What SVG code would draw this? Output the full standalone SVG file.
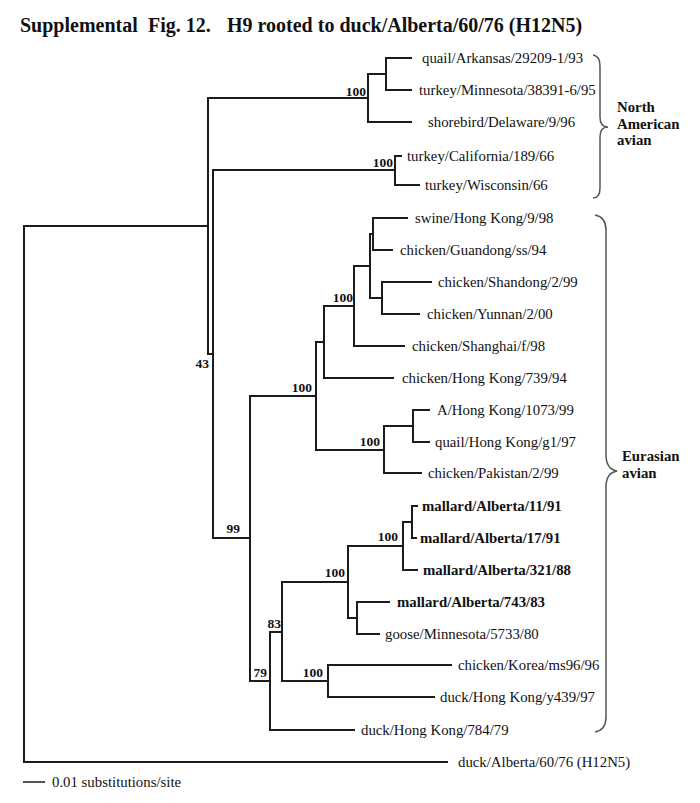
<svg xmlns="http://www.w3.org/2000/svg" width="700" height="803" viewBox="0 0 700 803">
<style>
.br{fill:none;stroke:#1c1c1c;stroke-width:2;stroke-linejoin:miter}
.t{font-family:"Liberation Serif","Times New Roman",serif;font-size:14.8px;fill:#111}
.bd{font-weight:bold}
.bs{font-family:"Liberation Serif","Times New Roman",serif;font-size:13.5px;font-weight:bold;fill:#111;text-anchor:end}
.brace{fill:none;stroke:#555;stroke-width:1.5}
</style>
<rect width="700" height="803" fill="#fff"/>
<text class="t bd" style="font-size:20px" y="32"><tspan x="20">Supplemental</tspan><tspan x="148">Fig. 12.</tspan><tspan x="227">H9 rooted to duck/Alberta/60/76 (H12N5)</tspan></text>
<g id="connectors">
<path class="br" d="M24,494 V226 H208"/>
<path class="br" d="M24,494 V762 H448"/>
<path class="br" d="M208,226 V98 H368"/>
<path class="br" d="M208,226 V354 H213"/>
<path class="br" d="M368,98 V74 H386"/>
<path class="br" d="M368,98 V122 H412"/>
<path class="br" d="M386,74 V58 H412"/>
<path class="br" d="M386,74 V90 H412"/>
<path class="br" d="M213,354 V170 H395"/>
<path class="br" d="M213,354 V538 H250"/>
<path class="br" d="M395,170 V156 H402"/>
<path class="br" d="M395,170 V185 H420"/>
<path class="br" d="M250,538 V396 H316"/>
<path class="br" d="M250,538 V681 H270"/>
<path class="br" d="M316,396 V342 H324"/>
<path class="br" d="M316,396 V450 H384"/>
<path class="br" d="M324,342 V306 H354"/>
<path class="br" d="M324,342 V378 H394"/>
<path class="br" d="M354,306 V266 H370"/>
<path class="br" d="M354,306 V346 H405"/>
<path class="br" d="M370,266 V234 H373"/>
<path class="br" d="M370,266 V298 H382"/>
<path class="br" d="M373,234 V218 H408"/>
<path class="br" d="M373,234 V250 H393"/>
<path class="br" d="M382,298 V282 H432"/>
<path class="br" d="M382,298 V314 H420"/>
<path class="br" d="M384,450 V426 H413"/>
<path class="br" d="M384,450 V473 H422"/>
<path class="br" d="M413,426 V410 H430"/>
<path class="br" d="M413,426 V442 H430"/>
<path class="br" d="M270,681 V632 H282"/>
<path class="br" d="M270,681 V730 H355"/>
<path class="br" d="M282,632 V582 H348"/>
<path class="br" d="M282,632 V681 H328"/>
<path class="br" d="M348,582 V546 H403"/>
<path class="br" d="M348,582 V618 H357"/>
<path class="br" d="M403,546 V522 H412"/>
<path class="br" d="M403,546 V570 H418"/>
<path class="br" d="M412,522 V506 H418"/>
<path class="br" d="M412,522 V538 H417"/>
<path class="br" d="M357,618 V602 H390"/>
<path class="br" d="M357,618 V634 H380"/>
<path class="br" d="M328,681 V665 H452"/>
<path class="br" d="M328,681 V697 H435"/>
</g>
<g id="n-na1"><text class="bs" x="366" y="96">100</text></g>
<g id="n-na2"><text class="bs" x="393" y="167">100</text></g>
<g id="n-b"><text class="bs" x="209" y="368">43</text></g>
<g id="n-e"><text class="bs" x="240" y="533">99</text></g>
<g id="n-e1"><text class="bs" x="312" y="392">100</text></g>
<g id="n-e1a1"><text class="bs" x="353" y="302">100</text></g>
<g id="n-e1b"><text class="bs" x="380" y="446">100</text></g>
<g id="n-m"><text class="bs" x="345" y="577">100</text></g>
<g id="n-m1"><text class="bs" x="398" y="541">100</text></g>
<g id="n-e2a"><text class="bs" x="281" y="628">83</text></g>
<g id="n-e2"><text class="bs" x="267" y="677">79</text></g>
<g id="n-k"><text class="bs" x="323" y="677">100</text></g>
<g id="leaf1"><text class="t" x="422" y="63">quail/Arkansas/29209-1/93</text></g>
<g id="leaf2"><text class="t" x="419" y="95">turkey/Minnesota/38391-6/95</text></g>
<g id="leaf3"><text class="t" x="428" y="127">shorebird/Delaware/9/96</text></g>
<g id="leaf4"><text class="t" x="407" y="161">turkey/California/189/66</text></g>
<g id="leaf5"><text class="t" x="425" y="190">turkey/Wisconsin/66</text></g>
<g id="leaf6"><text class="t" x="415" y="223">swine/Hong Kong/9/98</text></g>
<g id="leaf7"><text class="t" x="400" y="255">chicken/Guandong/ss/94</text></g>
<g id="leaf8"><text class="t" x="438" y="287">chicken/Shandong/2/99</text></g>
<g id="leaf9"><text class="t" x="427" y="319">chicken/Yunnan/2/00</text></g>
<g id="leaf10"><text class="t" x="412" y="351">chicken/Shanghai/f/98</text></g>
<g id="leaf11"><text class="t" x="402" y="383">chicken/Hong Kong/739/94</text></g>
<g id="leaf12"><text class="t" x="437" y="415">A/Hong Kong/1073/99</text></g>
<g id="leaf13"><text class="t" x="435" y="447">quail/Hong Kong/g1/97</text></g>
<g id="leaf14"><text class="t" x="428" y="478">chicken/Pakistan/2/99</text></g>
<g id="leaf15"><text class="t bd" x="422" y="511">mallard/Alberta/11/91</text></g>
<g id="leaf16"><text class="t bd" x="420" y="543">mallard/Alberta/17/91</text></g>
<g id="leaf17"><text class="t bd" x="423" y="575">mallard/Alberta/321/88</text></g>
<g id="leaf18"><text class="t bd" x="397" y="607">mallard/Alberta/743/83</text></g>
<g id="leaf19"><text class="t" x="385" y="639">goose/Minnesota/5733/80</text></g>
<g id="leaf20"><text class="t" x="458" y="670">chicken/Korea/ms96/96</text></g>
<g id="leaf21"><text class="t" x="440" y="702">duck/Hong Kong/y439/97</text></g>
<g id="leaf22"><text class="t" x="361" y="735">duck/Hong Kong/784/79</text></g>
<g id="leaf23"><text class="t" x="458" y="767">duck/Alberta/60/76 (H12N5)</text></g>
<g id="group-na">
<path class="brace" d="M593,55 Q600,56 600,66 L600,117 Q600,127 608,127 Q600,127 600,137 L600,188 Q600,198 593,198"/>
<text class="t bd" x="617" y="112">North</text>
<text class="t bd" x="617" y="129">American</text>
<text class="t bd" x="617" y="145">avian</text>
</g>
<g id="group-eu">
<path class="brace" d="M595,215 Q606,217 606,230 L606,455 Q606,469 617,471 Q606,473 606,487 L606,717 Q606,730 595,732"/>
<text class="t bd" x="622" y="461">Eurasian</text>
<text class="t bd" x="622" y="478">avian</text>
</g>
<g id="scale">
<path class="br" style="stroke-width:1.5" d="M23,782 H45"/>
<text class="t" x="52" y="787">0.01 substitutions/site</text>
</g>
</svg>
